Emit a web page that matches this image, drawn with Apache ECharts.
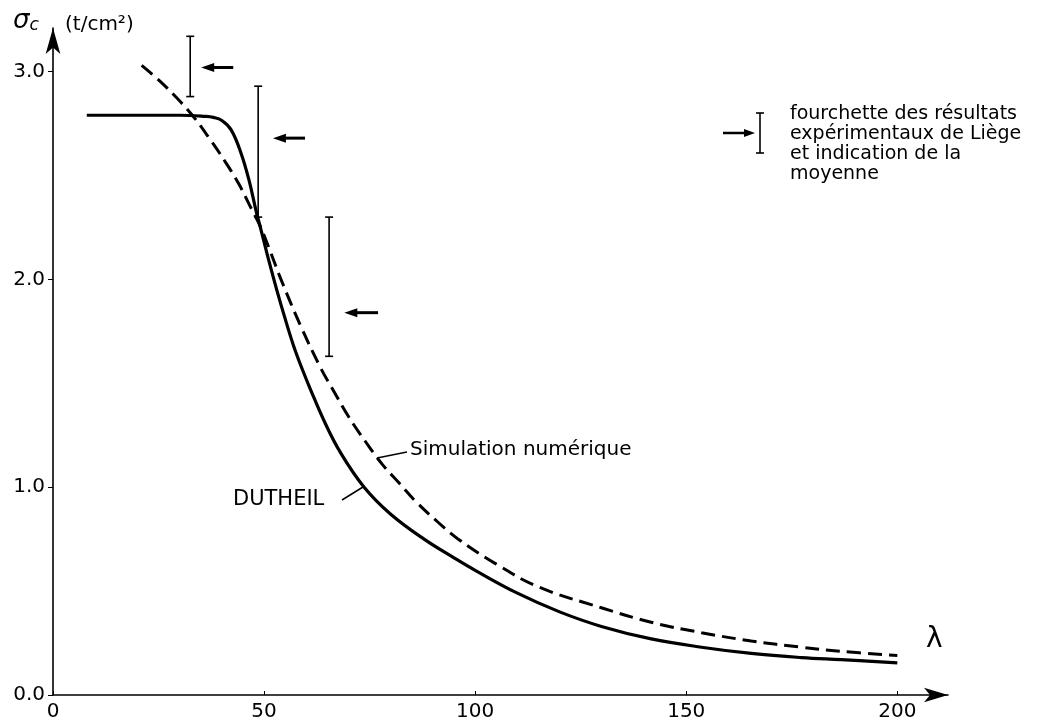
<!DOCTYPE html>
<html>
<head>
<meta charset="utf-8">
<script src="https://cdn.jsdelivr.net/npm/echarts@6/dist/echarts.min.js"></script>
<style>
html,body{margin:0;padding:0;background:#fff;}
#chart{width:1041px;height:722px;}
</style>
</head>
<body>
<div id="chart"></div>
<script>
// courbes (lambda, sigma_c)
var dutheil=[[8,2.79],[20,2.79],[30,2.79],[36,2.785],[38,2.78],[40,2.765],[42.2,2.72],[44.5,2.61],[46.4,2.48],[48.1,2.33],
  [49,2.26],[51,2.1],[53,1.95],[55,1.81],[57,1.68],[59,1.57],[61,1.47],[64.2,1.32],[68,1.17],[73.7,1.0],[80,0.87],[87.9,0.75],
  [95,0.66],[100,0.6],[110,0.49],[120,0.4],[129.9,0.33],[141.7,0.27],[153.6,0.23],[165.4,0.2],[177.3,0.18],[186.7,0.17],[200,0.155]];
var simulation=[[21,3.03],[25,2.96],[29,2.88],[33,2.79],[37,2.68],[41,2.56],[44,2.46],[47,2.34],[49,2.26],[51,2.16],
  [54,2.0],[58.8,1.77],[63.5,1.57],[66,1.48],[70,1.34],[74,1.22],[78,1.11],[82,1.02],[86,0.93],[91,0.835],[96,0.75],
  [105,0.63],[115,0.52],[129.9,0.42],[141.7,0.35],[153.6,0.3],[165.4,0.26],[177.3,0.23],[186.7,0.21],[200,0.19]];

// fourchettes experimentales de Liege
var barLambda=[32.5,48.6,65.4];
var barLow=[2.88,2.30,1.63];
var barHigh=[3.17,2.93,2.30];
var barMean=[3.02,2.68,1.84];
var arrowTip=[35.1,52.1,69.0];
var arrowTail=[42.7,59.7,77.0];

var xTicks=[0,50,100,150,200];
var yTicks=[0,1,2,3];

var FONT='"DejaVu Sans", sans-serif';

var barData=[];
for(var i=0;i<barLambda.length;i++){
  barData.push([barLambda[i],barLow[i],barHigh[i],barMean[i],arrowTip[i],arrowTail[i]]);
}

function renderBar(params,api){
  var lo=api.coord([api.value(0),api.value(1)]);
  var hi=api.coord([api.value(0),api.value(2)]);
  var tip=api.coord([api.value(4),api.value(3)]);
  var tail=api.coord([api.value(5),api.value(3)]);
  var st={stroke:'#000',lineWidth:1.6};
  return {type:'group',children:[
    {type:'line',shape:{x1:lo[0],y1:lo[1],x2:hi[0],y2:hi[1]},style:st},
    {type:'line',shape:{x1:hi[0]-4,y1:hi[1],x2:hi[0]+4,y2:hi[1]},style:st},
    {type:'line',shape:{x1:lo[0]-4,y1:lo[1],x2:lo[0]+4,y2:lo[1]},style:st},
    {type:'line',shape:{x1:tip[0]+8,y1:tip[1],x2:tail[0],y2:tail[1]},style:{stroke:'#000',lineWidth:3}},
    {type:'polygon',shape:{points:[[tip[0],tip[1]],[tip[0]+13,tip[1]-4.5],[tip[0]+13,tip[1]+4.5]]},style:{fill:'#000'}}
  ]};
}

var myChart=echarts.init(document.getElementById('chart'));
myChart.setOption({
  backgroundColor:'#fff',
  animation:false,
  grid:{left:53,right:93,top:28,bottom:27,containLabel:false,outerBoundsMode:'none'},
  xAxis:{
    type:'value',min:0,max:212,interval:50,
    axisLine:{show:true,symbol:['none','arrow'],symbolSize:[11,24],lineStyle:{color:'#000',width:1.6}},
    axisTick:{show:true,inside:true,length:4,customValues:xTicks,lineStyle:{color:'#000'}},
    axisLabel:{customValues:xTicks,color:'#000',fontSize:20,fontFamily:FONT,margin:7},
    splitLine:{show:false}
  },
  yAxis:{
    type:'value',min:0,max:3.21,interval:1,
    axisLine:{show:true,symbol:['none','arrow'],symbolSize:[11,26],lineStyle:{color:'#000',width:1.6}},
    axisTick:{show:true,length:5,customValues:yTicks,lineStyle:{color:'#000'}},
    axisLabel:{customValues:yTicks,color:'#000',fontSize:20,fontFamily:FONT,margin:8,
      formatter:function(v){return v.toFixed(1);}},
    splitLine:{show:false}
  },
  series:[
    {name:'DUTHEIL',type:'line',data:dutheil,smooth:0.4,symbol:'none',
      lineStyle:{color:'#000',width:3.2}},
    {name:'Simulation numérique',type:'line',data:simulation,smooth:0.4,symbol:'none',
      lineStyle:{color:'#000',width:3,type:[14,7]}},
    {name:'Liège',type:'custom',data:barData,renderItem:renderBar,z:3}
  ],
  graphic:[
    {type:'text',left:13,top:8,style:{rich:{s:{fontSize:26,fontStyle:'italic',fontFamily:FONT},c:{fontSize:17,fontStyle:'italic',fontFamily:FONT,padding:[10,0,0,0]}},
      text:'{s|σ}{c|c}',fill:'#000'}},
    {type:'text',left:65,top:15,style:{text:'(t/cm²)',fontSize:20,fontFamily:FONT,fill:'#000'}},
    {type:'text',left:926,top:626,style:{text:'λ',fontSize:28,fontFamily:FONT,fill:'#000'}},
    {type:'text',left:233,top:489,style:{text:'DUTHEIL',fontSize:21,fontFamily:FONT,fill:'#000'}},
    {type:'line',shape:{x1:342,y1:500,x2:363,y2:487},style:{stroke:'#000',lineWidth:1.5}},
    {type:'text',left:410,top:440,style:{text:'Simulation numérique',fontSize:20,fontFamily:FONT,fill:'#000'}},
    {type:'line',shape:{x1:377,y1:458,x2:407,y2:452},style:{stroke:'#000',lineWidth:1.5}},
    // legende
    {type:'line',shape:{x1:723,y1:133,x2:746,y2:133},style:{stroke:'#000',lineWidth:2.5}},
    {type:'polygon',shape:{points:[[755,133],[744,129],[744,137]]},style:{fill:'#000'}},
    {type:'line',shape:{x1:760,y1:113,x2:760,y2:153},style:{stroke:'#000',lineWidth:1.6}},
    {type:'line',shape:{x1:756,y1:113,x2:764,y2:113},style:{stroke:'#000',lineWidth:1.6}},
    {type:'line',shape:{x1:756,y1:153,x2:764,y2:153},style:{stroke:'#000',lineWidth:1.6}},
    {type:'text',left:790,top:104,style:{text:'fourchette des résultats\nexpérimentaux de Liège\net indication de la\nmoyenne',
      fontSize:19,lineHeight:20,fontFamily:FONT,fill:'#000'}}
  ]
});
</script>
</body>
</html>
